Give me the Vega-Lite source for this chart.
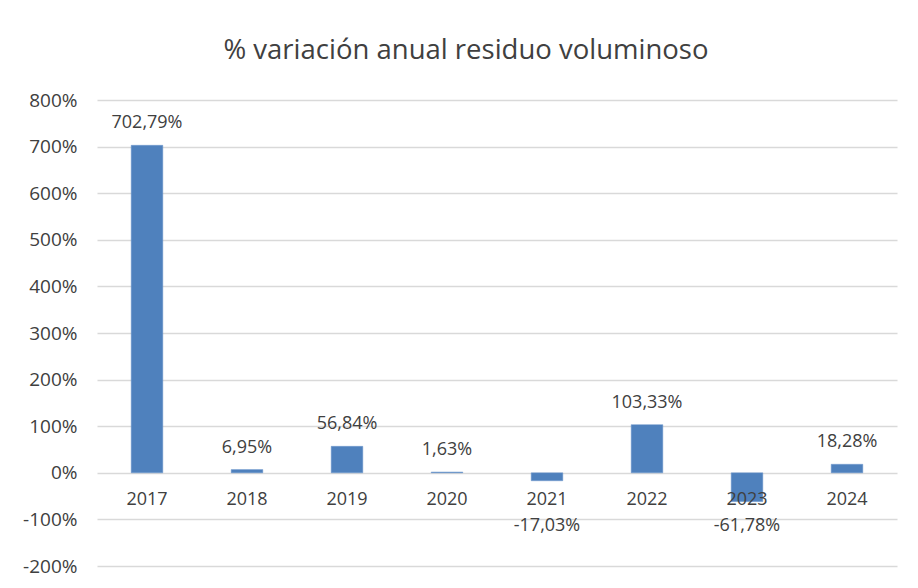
{
  "$schema": "https://vega.github.io/schema/vega-lite/v6.json",
  "width": 800,
  "height": 466,
  "autosize": "none",
  "padding": {"left": 97, "top": 100, "right": 21, "bottom": 22},
  "background": "white",
  "config": {
    "locale": {"number": {"decimal": ",", "thousands": ".", "grouping": [3], "currency": ["", " €"], "minus": "-"}},
    "view": {"stroke": null},
    "font": "Open Sans"
  },
  "title": {
    "text": "% variación anual residuo voluminoso",
    "font": "Open Sans",
    "fontSize": 27.5,
    "fontWeight": "normal",
    "color": "#404040",
    "anchor": "middle",
    "dx": -31,
    "dy": 37,
    "baseline": "bottom",
    "offset": 36
  },
  "data": {
    "values": [
      {"year": "2017", "value": 7.0279},
      {"year": "2018", "value": 0.0695},
      {"year": "2019", "value": 0.5684},
      {"year": "2020", "value": 0.0163},
      {"year": "2021", "value": -0.1703},
      {"year": "2022", "value": 1.0333},
      {"year": "2023", "value": -0.6178},
      {"year": "2024", "value": 0.1828}
    ]
  },
  "encoding": {
    "x": {
      "field": "year",
      "type": "nominal",
      "sort": null,
      "scale": {"paddingInner": 0.684, "paddingOuter": 0.342},
      "axis": null
    }
  },
  "layer": [
    {
      "mark": {"type": "bar", "color": "#4f81bd", "stroke": "#6d97cc", "strokeWidth": 0.5},
      "encoding": {
        "y": {
          "field": "value",
          "type": "quantitative",
          "scale": {"domain": [-2, 8], "nice": false, "zero": true},
          "axis": {
            "values": [-2, -1, 0, 1, 2, 3, 4, 5, 6, 7, 8],
            "format": ".0%",
            "title": null,
            "domain": false,
            "ticks": false,
            "grid": true,
            "gridColor": "#d9d9d9",
            "gridWidth": 1.3,
            "labelPadding": 20,
            "labelFont": "Open Sans",
            "labelFontSize": 19,
            "labelColor": "#404040"
          }
        }
      }
    },
    {
      "mark": {"type": "text", "baseline": "middle", "dy": 27, "fontSize": 18, "font": "Open Sans", "color": "#404040"},
      "encoding": {
        "y": {"datum": 0, "type": "quantitative"},
        "text": {"field": "year"}
      }
    },
    {
      "transform": [{"filter": "datum.value >= 0"}],
      "mark": {"type": "text", "baseline": "middle", "dy": -22, "fontSize": 18, "font": "Open Sans", "color": "#404040"},
      "encoding": {
        "y": {"field": "value", "type": "quantitative"},
        "text": {"field": "value", "type": "quantitative", "format": ".2%"}
      }
    },
    {
      "transform": [{"filter": "datum.value < 0"}],
      "mark": {"type": "text", "baseline": "middle", "fontSize": 18, "font": "Open Sans", "color": "#404040"},
      "encoding": {
        "y": {"datum": -1.15, "type": "quantitative"},
        "text": {"field": "value", "type": "quantitative", "format": ".2%"}
      }
    }
  ]
}
